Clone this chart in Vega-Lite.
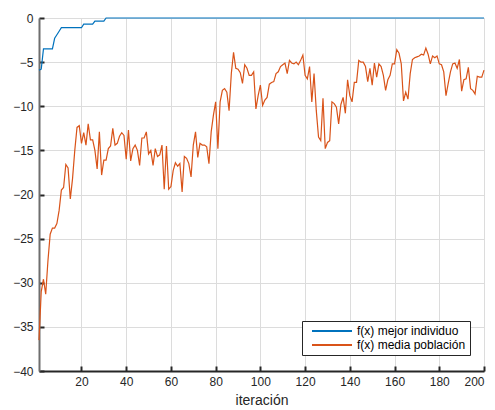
{
  "$schema": "https://vega.github.io/schema/vega-lite/v6.json",
  "autosize": "none",
  "width": 445,
  "height": 353,
  "padding": {"left": 39, "top": 18, "right": 11, "bottom": 39},
  "data": {"values": [
    {"iter":1,"mejor":-5.9,"media":-36.5},{"iter":2,"mejor":-5.8,"media":-31.0},{"iter":3,"mejor":-3.5,"media":-29.6},{"iter":4,"mejor":-3.5,"media":-31.3},{"iter":5,"mejor":-3.5,"media":-27.5},
    {"iter":6,"mejor":-3.5,"media":-24.5},{"iter":7,"mejor":-3.5,"media":-23.8},{"iter":8,"mejor":-2.3,"media":-23.8},{"iter":9,"mejor":-1.9,"media":-23.3},{"iter":10,"mejor":-1.5,"media":-21.8},
    {"iter":11,"mejor":-1.1,"media":-19.5},{"iter":12,"mejor":-1.1,"media":-19.2},{"iter":13,"mejor":-1.1,"media":-16.6},{"iter":14,"mejor":-1.1,"media":-17.0},{"iter":15,"mejor":-1.1,"media":-20.5},
    {"iter":16,"mejor":-1.1,"media":-18.2},{"iter":17,"mejor":-1.1,"media":-15.0},{"iter":18,"mejor":-1.1,"media":-12.4},{"iter":19,"mejor":-1.1,"media":-12.2},{"iter":20,"mejor":-1.1,"media":-14.2},
    {"iter":21,"mejor":-0.7,"media":-13.0},{"iter":22,"mejor":-0.7,"media":-14.4},{"iter":23,"mejor":-0.7,"media":-12.0},{"iter":24,"mejor":-0.7,"media":-13.8},{"iter":25,"mejor":-0.7,"media":-13.8},
    {"iter":26,"mejor":-0.35,"media":-15.0},{"iter":27,"mejor":-0.35,"media":-17.1},{"iter":28,"mejor":-0.35,"media":-12.9},{"iter":29,"mejor":-0.35,"media":-17.8},{"iter":30,"mejor":-0.35,"media":-16.1},
    {"iter":31,"mejor":0,"media":-16.1},{"iter":32,"mejor":0,"media":-14.8},{"iter":33,"mejor":0,"media":-14.5},{"iter":34,"mejor":0,"media":-12.5},{"iter":35,"mejor":0,"media":-14.4},
    {"iter":36,"mejor":0,"media":-14.2},{"iter":37,"mejor":0,"media":-13.4},{"iter":38,"mejor":0,"media":-13.0},{"iter":39,"mejor":0,"media":-13.3},{"iter":40,"mejor":0,"media":-16.0},
    {"iter":41,"mejor":0,"media":-12.7},{"iter":42,"mejor":0,"media":-16.2},{"iter":43,"mejor":0,"media":-14.8},{"iter":44,"mejor":0,"media":-14.4},{"iter":45,"mejor":0,"media":-15.0},
    {"iter":46,"mejor":0,"media":-16.7},{"iter":47,"mejor":0,"media":-13.6},{"iter":48,"mejor":0,"media":-13.6},{"iter":49,"mejor":0,"media":-12.9},{"iter":50,"mejor":0,"media":-15.4},
    {"iter":51,"mejor":0,"media":-15.0},{"iter":52,"mejor":0,"media":-16.7},{"iter":53,"mejor":0,"media":-14.8},{"iter":54,"mejor":0,"media":-15.7},{"iter":55,"mejor":0,"media":-15.5},
    {"iter":56,"mejor":0,"media":-14.4},{"iter":57,"mejor":0,"media":-19.4},{"iter":58,"mejor":0,"media":-14.5},{"iter":59,"mejor":0,"media":-19.4},{"iter":60,"mejor":0,"media":-19.1},
    {"iter":61,"mejor":0,"media":-17.3},{"iter":62,"mejor":0,"media":-16.4},{"iter":63,"mejor":0,"media":-16.8},{"iter":64,"mejor":0,"media":-16.5},{"iter":65,"mejor":0,"media":-19.7},
    {"iter":66,"mejor":0,"media":-15.7},{"iter":67,"mejor":0,"media":-15.9},{"iter":68,"mejor":0,"media":-16.5},{"iter":69,"mejor":0,"media":-18.0},{"iter":70,"mejor":0,"media":-14.4},
    {"iter":71,"mejor":0,"media":-12.9},{"iter":72,"mejor":0,"media":-15.8},{"iter":73,"mejor":0,"media":-14.2},{"iter":74,"mejor":0,"media":-14.4},{"iter":75,"mejor":0,"media":-14.4},
    {"iter":76,"mejor":0,"media":-14.6},{"iter":77,"mejor":0,"media":-16.5},{"iter":78,"mejor":0,"media":-12.9},{"iter":79,"mejor":0,"media":-11.0},{"iter":80,"mejor":0,"media":-9.5},
    {"iter":81,"mejor":0,"media":-14.8},{"iter":82,"mejor":0,"media":-9.5},{"iter":83,"mejor":0,"media":-8.2},{"iter":84,"mejor":0,"media":-8.0},{"iter":85,"mejor":0,"media":-8.4},
    {"iter":86,"mejor":0,"media":-10.5},{"iter":87,"mejor":0,"media":-6.3},{"iter":88,"mejor":0,"media":-3.9},{"iter":89,"mejor":0,"media":-5.7},{"iter":90,"mejor":0,"media":-5.8},
    {"iter":91,"mejor":0,"media":-6.2},{"iter":92,"mejor":0,"media":-7.4},{"iter":93,"mejor":0,"media":-5.3},{"iter":94,"mejor":0,"media":-5.7},{"iter":95,"mejor":0,"media":-6.5},
    {"iter":96,"mejor":0,"media":-6.5},{"iter":97,"mejor":0,"media":-6.1},{"iter":98,"mejor":0,"media":-10.3},{"iter":99,"mejor":0,"media":-8.8},{"iter":100,"mejor":0,"media":-7.6},
    {"iter":101,"mejor":0,"media":-9.9},{"iter":102,"mejor":0,"media":-9.3},{"iter":103,"mejor":0,"media":-9.0},{"iter":104,"mejor":0,"media":-7.5},{"iter":105,"mejor":0,"media":-7.3},
    {"iter":106,"mejor":0,"media":-7.2},{"iter":107,"mejor":0,"media":-6.3},{"iter":108,"mejor":0,"media":-6.1},{"iter":109,"mejor":0,"media":-5.5},{"iter":110,"mejor":0,"media":-5.3},
    {"iter":111,"mejor":0,"media":-5.1},{"iter":112,"mejor":0,"media":-6.3},{"iter":113,"mejor":0,"media":-4.8},{"iter":114,"mejor":0,"media":-5.1},{"iter":115,"mejor":0,"media":-5.2},
    {"iter":116,"mejor":0,"media":-5.0},{"iter":117,"mejor":0,"media":-5.3},{"iter":118,"mejor":0,"media":-4.8},{"iter":119,"mejor":0,"media":-4.2},{"iter":120,"mejor":0,"media":-6.5},
    {"iter":121,"mejor":0,"media":-6.9},{"iter":122,"mejor":0,"media":-5.5},{"iter":123,"mejor":0,"media":-9.5},{"iter":124,"mejor":0,"media":-6.3},{"iter":125,"mejor":0,"media":-10.5},
    {"iter":126,"mejor":0,"media":-13.5},{"iter":127,"mejor":0,"media":-13.9},{"iter":128,"mejor":0,"media":-9.1},{"iter":129,"mejor":0,"media":-14.8},{"iter":130,"mejor":0,"media":-14.1},
    {"iter":131,"mejor":0,"media":-13.9},{"iter":132,"mejor":0,"media":-9.5},{"iter":133,"mejor":0,"media":-9.7},{"iter":134,"mejor":0,"media":-10.1},{"iter":135,"mejor":0,"media":-12.0},
    {"iter":136,"mejor":0,"media":-9.8},{"iter":137,"mejor":0,"media":-9.0},{"iter":138,"mejor":0,"media":-10.8},{"iter":139,"mejor":0,"media":-7.0},{"iter":140,"mejor":0,"media":-8.8},
    {"iter":141,"mejor":0,"media":-9.5},{"iter":142,"mejor":0,"media":-7.3},{"iter":143,"mejor":0,"media":-7.3},{"iter":144,"mejor":0,"media":-4.8},{"iter":145,"mejor":0,"media":-5.0},
    {"iter":146,"mejor":0,"media":-5.0},{"iter":147,"mejor":0,"media":-5.5},{"iter":148,"mejor":0,"media":-7.2},{"iter":149,"mejor":0,"media":-5.7},{"iter":150,"mejor":0,"media":-7.6},
    {"iter":151,"mejor":0,"media":-5.1},{"iter":152,"mejor":0,"media":-6.7},{"iter":153,"mejor":0,"media":-5.2},{"iter":154,"mejor":0,"media":-5.5},{"iter":155,"mejor":0,"media":-6.5},
    {"iter":156,"mejor":0,"media":-8.2},{"iter":157,"mejor":0,"media":-7.0},{"iter":158,"mejor":0,"media":-6.5},{"iter":159,"mejor":0,"media":-5.2},{"iter":160,"mejor":0,"media":-5.2},
    {"iter":161,"mejor":0,"media":-3.6},{"iter":162,"mejor":0,"media":-4.0},{"iter":163,"mejor":0,"media":-5.2},{"iter":164,"mejor":0,"media":-9.4},{"iter":165,"mejor":0,"media":-8.4},
    {"iter":166,"mejor":0,"media":-9.2},{"iter":167,"mejor":0,"media":-6.3},{"iter":168,"mejor":0,"media":-4.7},{"iter":169,"mejor":0,"media":-4.5},{"iter":170,"mejor":0,"media":-4.4},
    {"iter":171,"mejor":0,"media":-4.3},{"iter":172,"mejor":0,"media":-4.1},{"iter":173,"mejor":0,"media":-4.2},{"iter":174,"mejor":0,"media":-3.4},{"iter":175,"mejor":0,"media":-4.1},
    {"iter":176,"mejor":0,"media":-5.2},{"iter":177,"mejor":0,"media":-4.3},{"iter":178,"mejor":0,"media":-4.5},{"iter":179,"mejor":0,"media":-4.3},{"iter":180,"mejor":0,"media":-5.2},
    {"iter":181,"mejor":0,"media":-5.3},{"iter":182,"mejor":0,"media":-6.1},{"iter":183,"mejor":0,"media":-8.8},{"iter":184,"mejor":0,"media":-7.4},{"iter":185,"mejor":0,"media":-6.1},
    {"iter":186,"mejor":0,"media":-5.2},{"iter":187,"mejor":0,"media":-5.1},{"iter":188,"mejor":0,"media":-5.7},{"iter":189,"mejor":0,"media":-4.7},{"iter":190,"mejor":0,"media":-8.3},
    {"iter":191,"mejor":0,"media":-7.0},{"iter":192,"mejor":0,"media":-6.9},{"iter":193,"mejor":0,"media":-5.6},{"iter":194,"mejor":0,"media":-8.0},{"iter":195,"mejor":0,"media":-8.2},
    {"iter":196,"mejor":0,"media":-8.6},{"iter":197,"mejor":0,"media":-6.6},{"iter":198,"mejor":0,"media":-6.7},{"iter":199,"mejor":0,"media":-6.7},{"iter":200,"mejor":0,"media":-5.9}
  ]},
  "transform": [{"fold": ["mejor", "media"], "as": ["serie", "valor"]}],
  "mark": {"type": "line", "strokeWidth": 1.2},
  "encoding": {
    "x": {
      "field": "iter", "type": "quantitative",
      "scale": {"domain": [1, 200], "nice": false, "zero": false},
      "axis": {
        "title": "iteración", "titleFontSize": 14, "titlePadding": 6,
        "titleFont": "Liberation Sans", "titleFontWeight": "normal", "titleColor": "#262626",
        "labelFont": "Liberation Sans", "labelFontSize": 12, "labelColor": "#262626",
        "labelPadding": 10,
        "gridColor": "#dcdcdc",
        "domainColor": "#262626", "domainWidth": 2,
        "tickColor": "#262626", "tickWidth": 2, "tickSize": -5
      }
    },
    "y": {
      "field": "valor", "type": "quantitative",
      "scale": {"domain": [-40, 0], "nice": false, "zero": false},
      "axis": {
        "title": null,
        "labelFont": "Liberation Sans", "labelFontSize": 12, "labelColor": "#262626",
        "labelPadding": 11,
        "gridColor": "#dcdcdc",
        "domainColor": "#6e6e6e", "domainWidth": 2,
        "tickColor": "#262626", "tickWidth": 2, "tickSize": -5
      }
    },
    "color": {
      "field": "serie", "type": "nominal",
      "scale": {"domain": ["mejor", "media"], "range": ["#0072BD", "#D95319"]},
      "legend": {
        "title": null,
        "orient": "none",
        "legendX": 263,
        "legendY": 303,
        "labelExpr": "datum.label == 'mejor' ? 'f(x) mejor individuo' : 'f(x) media población'",
        "symbolType": "stroke",
        "symbolSize": 1600,
        "symbolStrokeWidth": 2,
        "symbolOffset": 5,
        "clipHeight": 12,
        "rowPadding": 2,
        "labelOffset": 4,
        "labelFont": "Liberation Sans",
        "labelFontSize": 12,
        "labelColor": "#000000",
        "padding": 4,
        "strokeColor": "#262626",
        "fillColor": "#ffffff",
        "cornerRadius": 0
      }
    }
  }
}
